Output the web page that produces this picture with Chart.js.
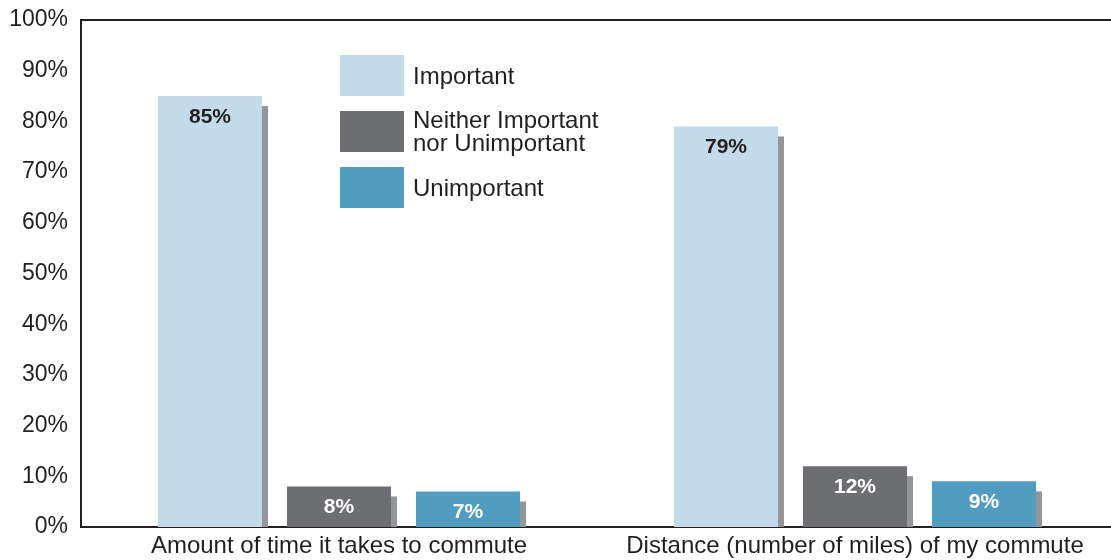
<!DOCTYPE html>
<html>
<head>
<meta charset="utf-8">
<script src="https://cdn.jsdelivr.net/npm/chart.js@4.4.1/dist/chart.umd.min.js"></script>
<style>
	html, body { margin: 0; padding: 0; background: #fff; overflow: hidden; }
	#wrap { width: 1113px; height: 560px; }
</style>
</head>
<body>
<div id="wrap"><canvas id="myChart" width="1113" height="560"></canvas></div>
<script>
// data
const categories = ['Amount of time it takes to commute', 'Distance (number of miles) of my commute'];
const seriesNames = ['Important', 'Neither Important nor Unimportant', 'Unimportant'];
const legendLines = [['Important'], ['Neither Important', 'nor Unimportant'], ['Unimportant']];
const important = [85, 79];
const neither = [8, 12];
const unimportant = [7, 9];
const yTickValues = [0, 10, 20, 30, 40, 50, 60, 70, 80, 90, 100];

const seriesColors = ['#c3dbe9', '#6d6e71', '#519dc0'];
const labelColors = ['#231f20', '#ffffff', '#ffffff'];
const shadowColor = '#939598';
const inkColor = '#231f20';

Chart.defaults.font.family = '"Liberation Sans", Arial, sans-serif';
Chart.defaults.color = inkColor;

// grey drop shadow behind each bar (offset right and down)
const barShadow = {
	id: 'barShadow',
	beforeDatasetDraw(chart, args) {
		const ctx = chart.ctx;
		ctx.save();
		ctx.fillStyle = shadowColor;
		args.meta.data.forEach((bar) => {
			const p = bar.getProps(['x', 'y', 'base', 'width'], true);
			ctx.fillRect(p.x - p.width / 2 + 6, p.y + 10, p.width, p.base - p.y - 10);
		});
		ctx.restore();
	}
};

// value labels inside the top of each bar
const valueLabels = {
	id: 'valueLabels',
	afterDatasetsDraw(chart) {
		const ctx = chart.ctx;
		ctx.save();
		ctx.font = 'bold 21px "Liberation Sans", Arial, sans-serif';
		ctx.textAlign = 'center';
		ctx.textBaseline = 'middle';
		chart.data.datasets.forEach((dataset, i) => {
			ctx.fillStyle = labelColors[i];
			chart.getDatasetMeta(i).data.forEach((bar, j) => {
				ctx.fillText(dataset.data[j] + '%', bar.x, bar.y + 21);
			});
		});
		ctx.restore();
	}
};

// legend drawn inside the plot area
const boxLegend = {
	id: 'boxLegend',
	afterDraw(chart) {
		const ctx = chart.ctx;
		const rows = [55, 111, 167];
		ctx.save();
		ctx.font = '24px "Liberation Sans", Arial, sans-serif';
		ctx.textBaseline = 'middle';
		ctx.textAlign = 'left';
		chart.data.datasets.forEach((dataset, i) => {
			const top = rows[i];
			ctx.fillStyle = dataset.backgroundColor;
			ctx.fillRect(340, top, 64, 41);
			ctx.fillStyle = inkColor;
			const lines = legendLines[i];
			const mid = top + 22;
			lines.forEach((line, k) => {
				ctx.fillText(line, 413, mid + (k - (lines.length - 1) / 2) * 23);
			});
		});
		ctx.restore();
	}
};

const ctx = document.getElementById('myChart').getContext('2d');
const myChart = new Chart(ctx, {
	type: 'bar',
	data: {
		labels: categories,
		datasets: [
			{ label: seriesNames[0], data: important, backgroundColor: seriesColors[0] },
			{ label: seriesNames[1], data: neither, backgroundColor: seriesColors[1] },
			{ label: seriesNames[2], data: unimportant, backgroundColor: seriesColors[2] }
		]
	},
	options: {
		responsive: false,
		animation: false,
		layout: { padding: { top: 20, left: 0, right: 0, bottom: 0 } },
		datasets: {
			bar: { categoryPercentage: 0.75, barPercentage: 0.806 }
		},
		scales: {
			x: {
				z: 1,
				grid: { display: false, drawTicks: false },
				border: { display: true, color: inkColor, width: 2 },
				ticks: { font: { size: 24 }, padding: 5, maxRotation: 0, autoSkip: false },
				afterFit: (s) => { s.height = 33; }
			},
			xTop: {
				type: 'category',
				position: 'top',
				grid: { display: false, drawTicks: false },
				border: { display: true, color: inkColor, width: 2 },
				ticks: { display: false },
				afterFit: (s) => { s.height = 0; }
			},
			y: {
				min: 0,
				max: 100,
				grid: { display: false, drawTicks: false },
				border: { display: true, color: inkColor, width: 2 },
				afterBuildTicks: (s) => { s.ticks = yTickValues.map(v => ({ value: v })); },
				ticks: {
					font: { size: 23 },
					padding: 13,
					callback: (v) => v + '%'
				},
				afterFit: (s) => {
					s.width = 81;
					s.paddingTop = 0;
					s.paddingBottom = 0;
				}
			}
		},
		plugins: {
			legend: { display: false },
			tooltip: { enabled: false }
		}
	},
	plugins: [barShadow, valueLabels, boxLegend]
});
</script>
</body>
</html>
